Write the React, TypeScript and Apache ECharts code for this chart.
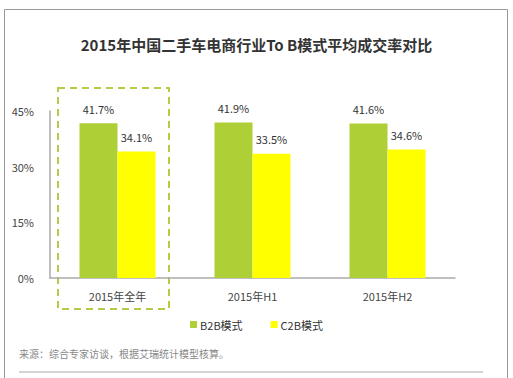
import React, { useEffect, useRef } from "react";
import * as echarts from "echarts";

const categories = ["2015年全年", "2015年H1", "2015年H2"];
const b2bValues = [41.7, 41.9, 41.6];
const c2bValues = [34.1, 33.5, 34.6];
const seriesNames = ["B2B模式", "C2B模式"];
const yTicks = { min: 0, max: 45, interval: 15 };
const titleText = "2015年中国二手车电商行业To B模式平均成交率对比";
const sourceText = "来源：综合专家访谈，根据艾瑞统计模型核算。";

const FONT = "'Noto Sans CJK SC', 'Noto Sans', sans-serif";

export default function App() {
  const ref = useRef<HTMLDivElement>(null);
  useEffect(() => {
    if (!ref.current) return;
    const chart = echarts.init(ref.current, undefined, { renderer: "svg" });
    const labelStyle = {
      show: true,
      position: "top" as const,
      formatter: (p: any) => p.value.toFixed(1) + "%",
      color: "#333",
      fontSize: 11,
      fontFamily: FONT,
      distance: 9,
    };
    chart.setOption({
      animation: false,
      backgroundColor: "#fff",
      textStyle: { fontFamily: FONT },
      title: {
        text: titleText,
        left: "center",
        top: 32,
        textStyle: { fontSize: 15, fontWeight: "bold", color: "#333", fontFamily: FONT },
      },
      legend: {
        data: seriesNames,
        top: 314,
        left: "center",
        icon: "rect",
        itemWidth: 7,
        itemHeight: 7,
        itemGap: 28,
        textStyle: { fontSize: 11, color: "#333", fontFamily: FONT, padding: [0, 0, 0, -2] },
      },
      grid: { left: 50, right: 58, top: 111, bottom: 100 },
      xAxis: {
        type: "category",
        data: categories,
        axisLine: { show: true, lineStyle: { color: "#aaa", width: 1.5 } },
        axisTick: { show: false },
        axisLabel: { color: "#444", fontSize: 11, margin: 12, fontFamily: FONT },
      },
      yAxis: {
        type: "value",
        min: yTicks.min,
        max: yTicks.max,
        interval: yTicks.interval,
        axisLine: { show: true, lineStyle: { color: "#aaa", width: 1.5 } },
        axisTick: { show: false },
        splitLine: { show: false },
        axisLabel: { formatter: "{value}%", color: "#444", fontSize: 11, margin: 16, fontFamily: FONT },
      },
      series: [
        {
          name: seriesNames[0],
          type: "bar",
          data: b2bValues,
          barWidth: 38,
          barGap: "0%",
          itemStyle: { color: "#AECF36" },
          label: labelStyle,
        },
        {
          name: seriesNames[1],
          type: "bar",
          data: c2bValues,
          barWidth: 38,
          itemStyle: { color: "#FFFF00" },
          label: labelStyle,
        },
      ],
      graphic: [
        {
          type: "rect",
          shape: { x: 4.5, y: 9.5, width: 503, height: 380 },
          style: { fill: "none", stroke: "#999", lineWidth: 1 },
          silent: true,
        },
        {
          type: "rect",
          shape: { x: 58, y: 88, width: 111, height: 221 },
          style: { fill: "none", stroke: "#B5CB45", lineWidth: 2, lineDash: [7, 5] },
          silent: true,
        },
        {
          type: "text",
          x: 19,
          y: 348,
          style: { text: sourceText, fill: "#888", fontSize: 10, fontFamily: FONT },
          silent: true,
        },
        {
          type: "line",
          shape: { x1: 19, y1: 372, x2: 483, y2: 372 },
          style: { stroke: "#aaa", lineWidth: 1 },
          silent: true,
        },
      ],
    });
    return () => chart.dispose();
  }, []);
  return (
    <div
      ref={ref}
      style={{ position: "fixed", left: 0, top: 0, width: 513, height: 378 }}
    />
  );
}
